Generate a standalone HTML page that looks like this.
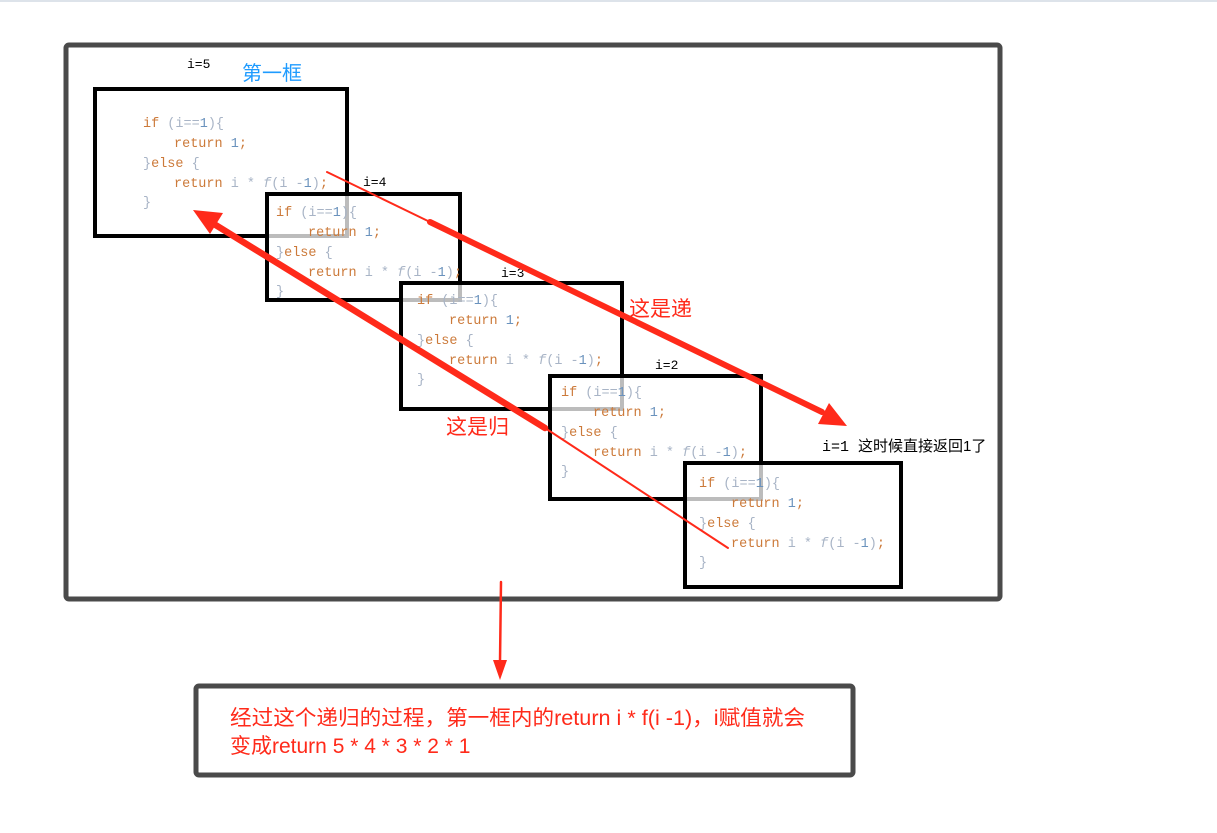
<!DOCTYPE html>
<html><head><meta charset="utf-8"><style>
html,body{margin:0;padding:0;background:#fff;width:1217px;height:833px;overflow:hidden}
svg{display:block}
.c{font-family:"Liberation Mono",monospace;font-size:13.5px}
.o{fill:#cc7a3a}.g{fill:#a8b4c6}.n{fill:#6a92bd}
.l{font-family:"Liberation Mono",monospace;font-size:13px;fill:#000}
</style></head><body>
<svg width="1217" height="833" viewBox="0 0 1217 833" xmlns="http://www.w3.org/2000/svg">
<rect x="0" y="0" width="1217" height="2" fill="#dde3ea"/>
<rect x="66" y="45" width="934" height="554" rx="3" fill="none" stroke="#4a4a4a" stroke-width="5"/>
<rect x="196" y="686" width="657" height="89" rx="3" fill="none" stroke="#4a4a4a" stroke-width="5"/>

<g fill="none" stroke="#000" stroke-width="4">
<rect x="95" y="89" width="252" height="147"/>
<rect x="267" y="194" width="193" height="106"/>
<rect x="401" y="283" width="221" height="126"/>
<rect x="550" y="376" width="211" height="123"/>
<rect x="685" y="463" width="216" height="124"/>
</g>
<g fill="none" stroke="#bcbcbc" stroke-width="4">
<polyline points="347,196 347,236 269,236"/>
<polyline points="460,285 460,300 403,300"/>
<polyline points="622,378 622,409 552,409"/>
<polyline points="761,465 761,499 687,499"/>
</g>

<g class="c">
<text x="143" y="127"><tspan class="o">if</tspan><tspan class="g"> (i==</tspan><tspan class="n">1</tspan><tspan class="g">){</tspan></text>
<text x="174" y="147"><tspan class="o">return </tspan><tspan class="n">1</tspan><tspan class="o">;</tspan></text>
<text x="143" y="167"><tspan class="g">}</tspan><tspan class="o">else</tspan><tspan class="g"> {</tspan></text>
<text x="174" y="187"><tspan class="o">return </tspan><tspan class="g">i * </tspan><tspan class="g" font-style="italic">f</tspan><tspan class="g">(i -</tspan><tspan class="n">1</tspan><tspan class="g">)</tspan><tspan class="o">;</tspan></text>
<text x="143" y="206" class="g">}</text>

<text x="276" y="216"><tspan class="o">if</tspan><tspan class="g"> (i==</tspan><tspan class="n">1</tspan><tspan class="g">){</tspan></text>
<text x="308" y="236"><tspan class="o">return </tspan><tspan class="n">1</tspan><tspan class="o">;</tspan></text>
<text x="276" y="256"><tspan class="g">}</tspan><tspan class="o">else</tspan><tspan class="g"> {</tspan></text>
<text x="308" y="276"><tspan class="o">return </tspan><tspan class="g">i * </tspan><tspan class="g" font-style="italic">f</tspan><tspan class="g">(i -</tspan><tspan class="n">1</tspan><tspan class="g">)</tspan><tspan class="o">;</tspan></text>
<text x="276" y="295" class="g">}</text>

<text x="417" y="304"><tspan class="o">if</tspan><tspan class="g"> (i==</tspan><tspan class="n">1</tspan><tspan class="g">){</tspan></text>
<text x="449" y="324"><tspan class="o">return </tspan><tspan class="n">1</tspan><tspan class="o">;</tspan></text>
<text x="417" y="344"><tspan class="g">}</tspan><tspan class="o">else</tspan><tspan class="g"> {</tspan></text>
<text x="449" y="364"><tspan class="o">return </tspan><tspan class="g">i * </tspan><tspan class="g" font-style="italic">f</tspan><tspan class="g">(i -</tspan><tspan class="n">1</tspan><tspan class="g">)</tspan><tspan class="o">;</tspan></text>
<text x="417" y="383" class="g">}</text>

<text x="561" y="396"><tspan class="o">if</tspan><tspan class="g"> (i==</tspan><tspan class="n">1</tspan><tspan class="g">){</tspan></text>
<text x="593" y="416"><tspan class="o">return </tspan><tspan class="n">1</tspan><tspan class="o">;</tspan></text>
<text x="561" y="436"><tspan class="g">}</tspan><tspan class="o">else</tspan><tspan class="g"> {</tspan></text>
<text x="593" y="456"><tspan class="o">return </tspan><tspan class="g">i * </tspan><tspan class="g" font-style="italic">f</tspan><tspan class="g">(i -</tspan><tspan class="n">1</tspan><tspan class="g">)</tspan><tspan class="o">;</tspan></text>
<text x="561" y="475" class="g">}</text>

<text x="699" y="487"><tspan class="o">if</tspan><tspan class="g"> (i==</tspan><tspan class="n">1</tspan><tspan class="g">){</tspan></text>
<text x="731" y="507"><tspan class="o">return </tspan><tspan class="n">1</tspan><tspan class="o">;</tspan></text>
<text x="699" y="527"><tspan class="g">}</tspan><tspan class="o">else</tspan><tspan class="g"> {</tspan></text>
<text x="731" y="547"><tspan class="o">return </tspan><tspan class="g">i * </tspan><tspan class="g" font-style="italic">f</tspan><tspan class="g">(i -</tspan><tspan class="n">1</tspan><tspan class="g">)</tspan><tspan class="o">;</tspan></text>
<text x="699" y="566" class="g">}</text>
</g>

<text class="l" x="187" y="68">i=5</text>
<text x="242" y="80" font-family="'Liberation Sans','Noto Sans CJK SC',sans-serif" font-size="20" fill="#1e9bff">第一框</text>
<text class="l" x="363" y="186">i=4</text>
<text class="l" x="501" y="277">i=3</text>
<text class="l" x="655" y="369">i=2</text>
<text x="822" y="451" font-family="'Liberation Mono','Noto Sans CJK SC',sans-serif" font-size="15" fill="#000">i=1 <tspan font-family="'Liberation Sans','Noto Sans CJK SC',sans-serif">这时候直接返回1了</tspan></text>
<text x="629" y="316" font-family="'Liberation Sans','Noto Sans CJK SC',sans-serif" font-size="21" fill="#ff2a1a">这是递</text>
<text x="446" y="434" font-family="'Liberation Sans','Noto Sans CJK SC',sans-serif" font-size="21" fill="#ff2a1a">这是归</text>

<g stroke="#ff2a1a" fill="#ff2a1a" stroke-linecap="round">
<line x1="327" y1="172" x2="430" y2="222" stroke-width="2"/>
<line x1="430" y1="222" x2="822" y2="412" stroke-width="6"/>
<polygon points="847,426 818,424 829,403" stroke="none"/>
<line x1="728" y1="548" x2="545" y2="428" stroke-width="2"/>
<line x1="545" y1="428" x2="214" y2="224" stroke-width="6.5"/>
<polygon points="193,210 223,213 210,234" stroke="none"/>
<line x1="501" y1="582" x2="500" y2="662" stroke-width="2.5"/>
<polygon points="500,680 493,660 507,660" stroke="none"/>
</g>

<g font-family="'Liberation Sans','Noto Sans CJK SC',sans-serif" font-size="21" fill="#ff2a1a">
<text x="230" y="725" textLength="575" lengthAdjust="spacingAndGlyphs">经过这个递归的过程，第一框内的return i * f(i -1)，i赋值就会</text>
<text x="230" y="753">变成return 5 * 4 * 3 * 2 * 1</text>
</g>
</svg>
</body></html>
